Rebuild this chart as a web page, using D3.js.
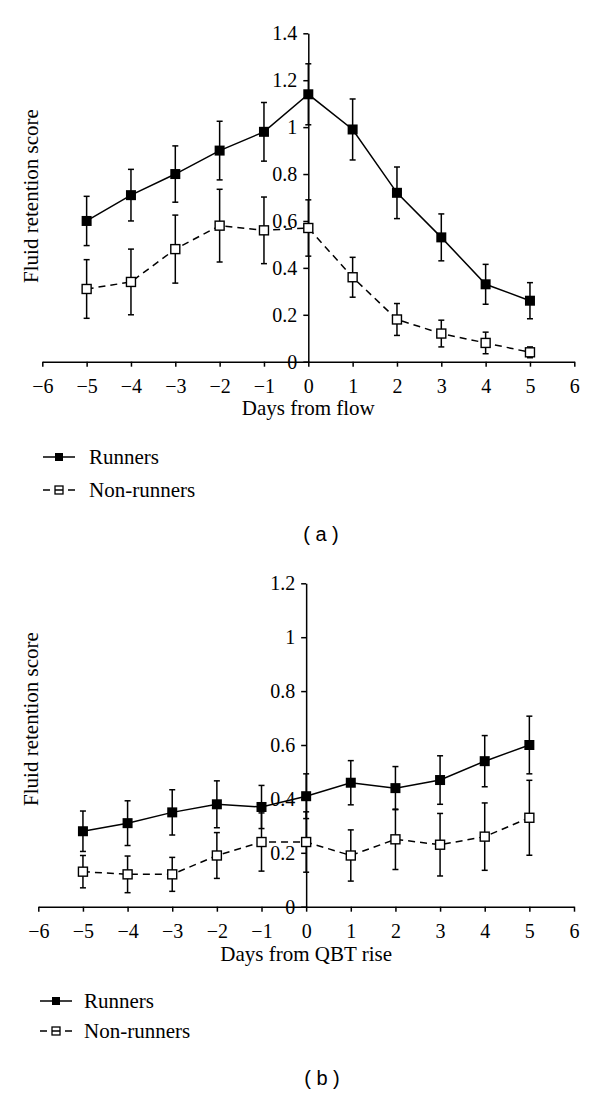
<!DOCTYPE html>
<html>
<head>
<meta charset="utf-8">
<script src="https://cdn.jsdelivr.net/npm/d3@7"></script>
<style>
  html, body { margin: 0; padding: 0; background: #fff; }
  svg { display: block; }
  .serif { font-family: "Liberation Serif", "Times New Roman", serif; }
</style>
</head>
<body>
<svg id="chart" width="600" height="1093"></svg>
<script>
// ---------- data ----------
const days = [-5, -4, -3, -2, -1, 0, 1, 2, 3, 4, 5];
const xTicks = [-6, -5, -4, -3, -2, -1, 0, 1, 2, 3, 4, 5, 6];
const seriesNames = ["Runners", "Non-runners"];

// Panel (a): days from flow
const runnersA = [0.60, 0.71, 0.80, 0.90, 0.98, 1.14, 0.99, 0.72, 0.53, 0.33, 0.26];
const runnersAErr = [0.105, 0.11, 0.12, 0.125, 0.125, 0.13, 0.13, 0.11, 0.10, 0.085, 0.077];
const nonRunnersA = [0.31, 0.34, 0.48, 0.58, 0.56, 0.57, 0.36, 0.18, 0.12, 0.08, 0.04];
const nonRunnersAErr = [0.125, 0.14, 0.145, 0.155, 0.142, 0.12, 0.085, 0.068, 0.057, 0.046, 0.023];
const yTicksA = [0, 0.2, 0.4, 0.6, 0.8, 1, 1.2, 1.4];

// Panel (b): days from QBT rise
const runnersB = [0.28, 0.31, 0.35, 0.38, 0.37, 0.41, 0.46, 0.44, 0.47, 0.54, 0.60];
const runnersBErr = [0.075, 0.083, 0.084, 0.087, 0.08, 0.083, 0.082, 0.08, 0.09, 0.095, 0.107];
const nonRunnersB = [0.13, 0.12, 0.12, 0.19, 0.24, 0.24, 0.19, 0.25, 0.23, 0.26, 0.33];
const nonRunnersBErr = [0.06, 0.068, 0.063, 0.085, 0.108, 0.112, 0.095, 0.112, 0.116, 0.125, 0.139];
const yTicksB = [0, 0.2, 0.4, 0.6, 0.8, 1, 1.2];

const svg = d3.select("#chart");
const fmtY = d => String(+d.toFixed(1));
const fmtX = d3.format("d");

function drawPanel(cfg) {
  const x = d3.scaleLinear().domain([-6, 6]).range(cfg.xRange);
  const y = d3.scaleLinear().domain([0, cfg.yMax]).range(cfg.yRange);
  const g = svg.append("g");

  // x axis
  const xa = g.append("g")
    .attr("transform", `translate(0,${y(0)})`)
    .call(d3.axisBottom(x).tickValues(xTicks).tickFormat(fmtX).tickSize(5).tickSizeOuter(0).tickPadding(12));
  // y axis at x = 0
  const ya = g.append("g")
    .attr("transform", `translate(${x(0)},0)`)
    .call(d3.axisLeft(y).tickValues(cfg.yTicks).tickFormat(fmtY).tickSize(5).tickSizeOuter(0).tickPadding(6));
  [xa, ya].forEach(a => {
    a.select(".domain").attr("stroke", "#000").attr("stroke-width", 1.5);
    a.selectAll(".tick line").attr("stroke", "#000").attr("stroke-width", 1.5);
    a.selectAll(".tick text").attr("class", "serif").attr("font-size", 20).attr("fill", "#000");
  });
  xa.attr("font-family", null);
  ya.attr("font-family", null);

  // axis titles
  g.append("text").attr("class", "serif")
    .attr("x", x(0)).attr("y", cfg.xTitleY)
    .attr("text-anchor", "middle").attr("font-size", 21)
    .text(cfg.xTitle);
  g.append("text").attr("class", "serif")
    .attr("transform", `translate(38,${cfg.yTitleCenter}) rotate(-90)`)
    .attr("text-anchor", "middle").attr("font-size", 21)
    .text("Fluid retention score");

  const series = [
    { vals: cfg.runners, errs: cfg.runnersErr, dash: null, filled: true },
    { vals: cfg.nonRunners, errs: cfg.nonRunnersErr, dash: "7,5", filled: false }
  ];
  const line = d3.line().x(d => x(d.day)).y(d => y(d.v));

  // error bars first
  series.forEach(s => {
    const pts = days.map((d, i) => ({ day: d, v: s.vals[i], e: s.errs[i] }));
    const eb = g.append("g").attr("stroke", "#000").attr("stroke-width", 1.5);
    pts.forEach(p => {
      eb.append("line").attr("x1", x(p.day)).attr("x2", x(p.day))
        .attr("y1", y(p.v - p.e)).attr("y2", y(p.v + p.e));
      [p.v - p.e, p.v + p.e].forEach(v => {
        eb.append("line").attr("x1", x(p.day) - 3).attr("x2", x(p.day) + 3)
          .attr("y1", y(v)).attr("y2", y(v));
      });
    });
  });
  // lines and markers
  series.forEach(s => {
    const pts = days.map((d, i) => ({ day: d, v: s.vals[i] }));
    g.append("path").datum(pts).attr("d", line)
      .attr("fill", "none").attr("stroke", "#000").attr("stroke-width", 1.5)
      .attr("stroke-dasharray", s.dash);
    g.selectAll(null).data(pts).enter().append("rect")
      .attr("x", d => x(d.day) - (s.filled ? 5 : 4.5))
      .attr("y", d => y(d.v) - (s.filled ? 5 : 4.5))
      .attr("width", s.filled ? 10 : 9).attr("height", s.filled ? 10 : 9)
      .attr("fill", s.filled ? "#000" : "#fff")
      .attr("stroke", "#000").attr("stroke-width", s.filled ? 0 : 1.4);
  });

  // legend
  const lg = g.append("g");
  seriesNames.forEach((name, i) => {
    const s = series[i];
    const ly = cfg.legendY[i];
    const x0 = cfg.legendX0, x1 = cfg.legendX0 + 32, xm = (x0 + x1) / 2;
    lg.append("line").attr("x1", x0).attr("x2", x1).attr("y1", ly).attr("y2", ly)
      .attr("stroke", "#000").attr("stroke-width", 1.5)
      .attr("stroke-dasharray", s.filled ? null : "7,5,8,5,7");
    if (s.filled) {
      lg.append("rect").attr("x", xm - 4).attr("y", ly - 4).attr("width", 8).attr("height", 8).attr("fill", "#000");
    } else {
      lg.append("rect").attr("x", xm - 4).attr("y", ly - 4).attr("width", 8).attr("height", 8)
        .attr("fill", "none").attr("stroke", "#000").attr("stroke-width", 1.3);
    }
    lg.append("text").attr("class", "serif").attr("x", cfg.legendTextX).attr("y", ly + 7)
      .attr("font-size", 21).text(name);
  });

  // panel caption
  g.append("text").attr("x", cfg.captionX).attr("y", cfg.captionY)
    .attr("text-anchor", "middle").attr("font-family", "Liberation Sans, Arial, sans-serif")
    .attr("font-size", 20).style("white-space", "pre").text(cfg.caption);
}

drawPanel({
  xRange: [42.3, 574.3], yRange: [361.7, 33.3], yMax: 1.4, yTicks: yTicksA,
  runners: runnersA, runnersErr: runnersAErr, nonRunners: nonRunnersA, nonRunnersErr: nonRunnersAErr,
  xTitle: "Days from flow", xTitleY: 415, yTitleCenter: 196,
  legendY: [457, 490], legendX0: 43, legendTextX: 89,
  caption: "( a )", captionX: 321, captionY: 541
});
drawPanel({
  xRange: [38.3, 574], yRange: [906.7, 583.3], yMax: 1.2, yTicks: yTicksB,
  runners: runnersB, runnersErr: runnersBErr, nonRunners: nonRunnersB, nonRunnersErr: nonRunnersBErr,
  xTitle: "Days from QBT rise", xTitleY: 961, yTitleCenter: 719,
  legendY: [1001, 1031], legendX0: 40, legendTextX: 84,
  caption: "( b )", captionX: 322, captionY: 1085
});
</script>
</body>
</html>
